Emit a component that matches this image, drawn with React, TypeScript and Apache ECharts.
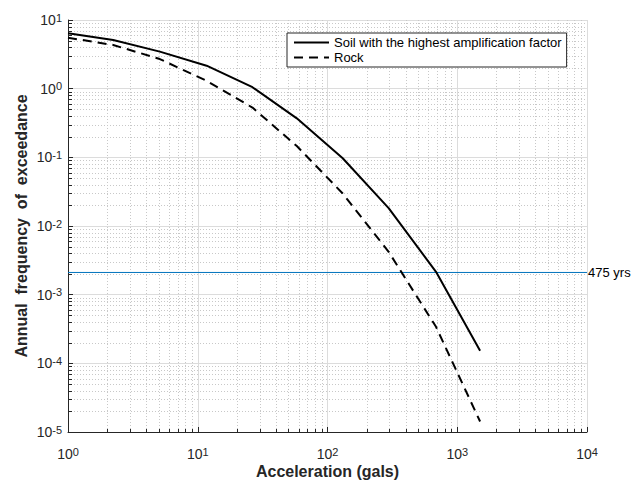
import React, { useEffect, useRef } from "react";
import * as echarts from "echarts";

// ---- data ----
const accel = [1, 2.23, 5.1, 11.7, 26.4, 58, 131, 296, 686, 1500];
const soil = [6.4, 5.1, 3.46, 2.16, 1.05, 0.37, 0.097, 0.0182, 0.00215, 0.000152];
const rock = [5.52, 4.33, 2.7, 1.3, 0.53, 0.146, 0.0297, 0.0042, 0.00034, 0.0000142];
const returnPeriod = 475;
const seriesNames = ["Soil with the highest amplification factor", "Rock"];

// axis structure
const xRange = [1, 10000];
const yRange = [1e-5, 10];
const minorMultipliers = [2, 3, 4, 5, 6, 7, 8, 9];
const xDecades = [1, 10, 100, 1000];
const yDecades = [1e-5, 1e-4, 1e-3, 1e-2, 1e-1, 1];

const minorX = xDecades.flatMap((d) => minorMultipliers.map((m) => m * d));
const minorY = yDecades.flatMap((d) => minorMultipliers.map((m) => m * d));

const FONT = "'Liberation Sans', Arial, Helvetica, sans-serif";
const AXIS_COLOR = "#262626";

const supFormatter = (v: number) => {
  const e = Math.round(Math.log10(v));
  return `{b|10}{s|${e}}`;
};

const labelCommon = {
  fontFamily: FONT,
  fontSize: 14,
  color: AXIS_COLOR,
  rich: {
    b: { fontFamily: FONT, fontSize: 14, lineHeight: 16, verticalAlign: "middle", color: AXIS_COLOR },
    s: { fontFamily: FONT, fontSize: 11, lineHeight: 3, verticalAlign: "top", color: AXIS_COLOR },
  },
};

export default function App() {
  const ref = useRef<HTMLDivElement>(null);
  useEffect(() => {
    if (!ref.current) return;
    const chart = echarts.init(ref.current, undefined, { renderer: "svg" });
    const px = (v: number) => Math.round(v) + 0.5;

    const option: any = {
      animation: false,
      backgroundColor: "#ffffff",
      grid: {
        left: 68,
        top: 20,
        right: 44,
        bottom: 49,
        containLabel: false,
        outerBoundsMode: "none",
      },
      legend: {
        data: seriesNames,
        orient: "vertical",
        left: 287,
        top: 33,
        padding: [3, 5, 3, 6],
        itemWidth: 35,
        itemHeight: 12,
        itemGap: 2,
        backgroundColor: "#ffffff",
        borderColor: AXIS_COLOR,
        borderWidth: 1,
        borderRadius: 0,
        itemStyle: { opacity: 0 },
        textStyle: { fontFamily: FONT, fontSize: 13, color: "#000" },
      },
      xAxis: {
        type: "log",
        logBase: 10,
        min: xRange[0],
        max: xRange[1],
        name: "Acceleration (gals)",
        nameLocation: "middle",
        nameGap: 31,
        nameMoveOverlap: false,
        nameTextStyle: { fontFamily: FONT, fontSize: 16, fontWeight: "bold", color: AXIS_COLOR },
        axisLine: { show: true, onZero: false, lineStyle: { color: AXIS_COLOR, width: 1 } },
        axisTick: { show: true, inside: true, length: 5, lineStyle: { color: AXIS_COLOR } },
        axisLabel: { ...labelCommon, margin: 14, formatter: supFormatter },
        splitLine: { show: true, lineStyle: { color: "#dcdcdc", width: 1 } },
      },
      yAxis: {
        type: "log",
        logBase: 10,
        min: yRange[0],
        max: yRange[1],
        name: "Annual  frequency  of  exceedance",
        nameLocation: "middle",
        nameGap: 39,
        nameMoveOverlap: false,
        nameTextStyle: { fontFamily: FONT, fontSize: 16, fontWeight: "bold", color: AXIS_COLOR },
        axisLine: { show: true, onZero: false, lineStyle: { color: AXIS_COLOR, width: 1 } },
        axisTick: { show: true, inside: true, length: 5, lineStyle: { color: AXIS_COLOR } },
        axisLabel: { ...labelCommon, margin: 6, formatter: supFormatter },
        splitLine: { show: true, lineStyle: { color: "#dcdcdc", width: 1 } },
      },
      series: [
        {
          type: "custom",
          name: "minorX",
          z: 0,
          silent: true,
          data: minorX.map((v) => [v, 1]),
          encode: { x: 0, y: 1 },
          renderItem: (params: any, api: any) => {
            const cs = params.coordSys;
            const p = api.coord([api.value(0), 1]);
            const x = px(p[0]);
            const yb = Math.round(cs.y + cs.height) + 0.5;
            return {
              type: "group",
              children: [
                {
                  type: "line",
                  shape: { x1: x, y1: cs.y, x2: x, y2: cs.y + cs.height },
                  style: { stroke: "#c8c8c8", lineWidth: 1, lineDash: [1, 2] },
                },
                {
                  type: "line",
                  shape: { x1: x, y1: yb, x2: x, y2: yb - 3.5 },
                  style: { stroke: AXIS_COLOR, lineWidth: 1 },
                },
              ],
            };
          },
        },
        {
          type: "custom",
          name: "minorY",
          z: 0,
          silent: true,
          data: minorY.map((v) => [1, v]),
          encode: { x: 0, y: 1 },
          renderItem: (params: any, api: any) => {
            const cs = params.coordSys;
            const p = api.coord([1, api.value(1)]);
            const y = px(p[1]);
            const xl = Math.round(cs.x) + 0.5;
            return {
              type: "group",
              children: [
                {
                  type: "line",
                  shape: { x1: cs.x, y1: y, x2: cs.x + cs.width, y2: y },
                  style: { stroke: "#c8c8c8", lineWidth: 1, lineDash: [1, 2] },
                },
                {
                  type: "line",
                  shape: { x1: xl, y1: y, x2: xl + 3.5, y2: y },
                  style: { stroke: AXIS_COLOR, lineWidth: 1 },
                },
              ],
            };
          },
        },
        {
          type: "line",
          name: "returnPeriodLine",
          z: 2,
          symbol: "none",
          silent: true,
          data: [
            [xRange[0], 1 / returnPeriod],
            [xRange[1], 1 / returnPeriod],
          ],
          lineStyle: { color: "#0072BD", width: 1 },
          itemStyle: { color: "#0072BD" },
          endLabel: {
            show: true,
            distance: 1,
            formatter: `${returnPeriod} yrs`,
            fontFamily: FONT,
            fontSize: 13,
            color: "#000",
          },
        },
        {
          type: "line",
          name: seriesNames[0],
          z: 3,
          symbol: "none",
          data: accel.map((a, i) => [a, soil[i]]),
          lineStyle: { color: "#000", width: 2 },
          itemStyle: { color: "#000" },
        },
        {
          type: "line",
          name: seriesNames[1],
          z: 3,
          symbol: "none",
          data: accel.map((a, i) => [a, rock[i]]),
          lineStyle: { color: "#000", width: 2, type: [9, 6] },
          itemStyle: { color: "#000" },
        },
      ],
    };
    chart.setOption(option);
    return () => chart.dispose();
  }, []);
  return (
    <div
      ref={ref}
      style={{ position: "fixed", left: 0, top: 0, width: 631, height: 481, background: "#fff" }}
    />
  );
}
